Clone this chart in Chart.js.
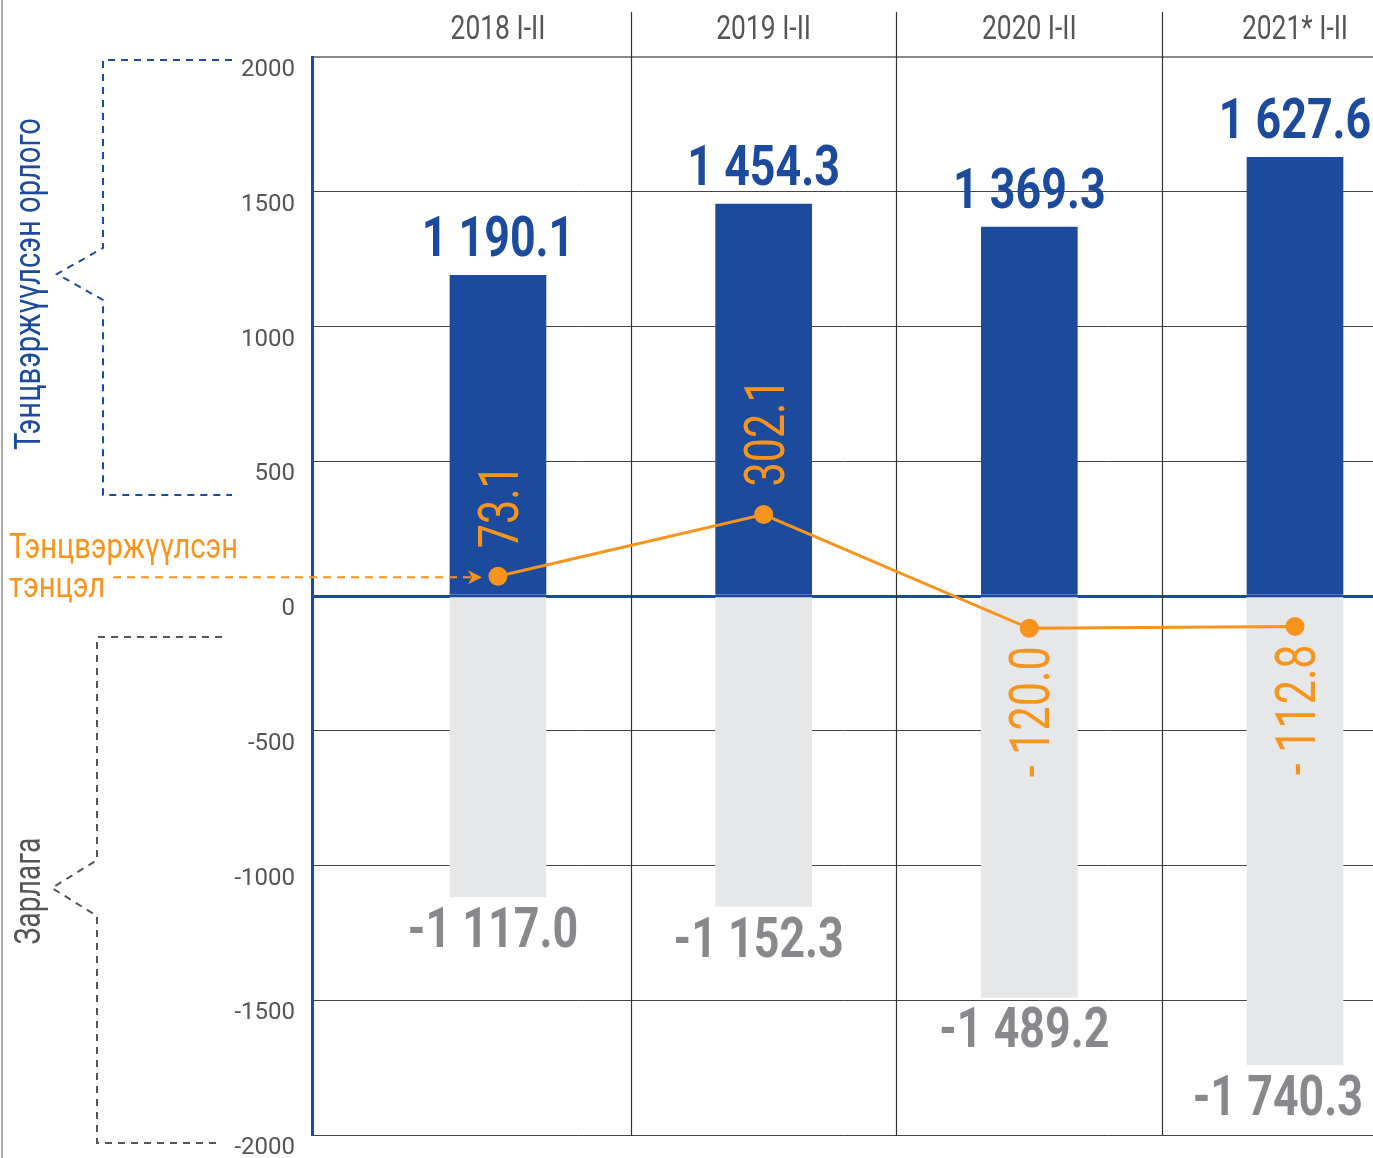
<!DOCTYPE html>
<html>
<head>
<meta charset="utf-8">
<script src="https://cdn.jsdelivr.net/npm/chart.js@4.4.1/dist/chart.umd.min.js"></script>
<style>
  html, body { margin: 0; padding: 0; background: #fff; overflow: hidden; }
  #wrap { width: 1373px; height: 1158px; position: relative; }
</style>
</head>
<body>
<div id="wrap"><canvas id="budgetChart"></canvas></div>
<script>
// Data
const periods = ['2018 I-II', '2019 I-II', '2020 I-II', '2021* I-II'];
const revenue = [1190.1, 1454.3, 1369.3, 1627.6];
const expenditure = [-1117.0, -1152.3, -1489.2, -1740.3];
const balance = [73.1, 302.1, -120.0, -112.8];
const yMin = -2000, yMax = 2000, yStep = 500;

// Colours
const BLUE = '#1c4a9c';
const GRAY_BAR = '#e6e7e8';
const GRAY_TEXT = '#88898d';
const ORANGE = '#f7941d';
const DARK = '#555555';

// 1 190.1 style
function fmt(v) {
    const sign = v < 0 ? '-' : '';
    const parts = Math.abs(v).toFixed(1).split('.');
    const intPart = parts[0].replace(/\B(?=(\d{3})+(?!\d))/g, ' ');
    return sign + intPart + '.' + parts[1];
}

// draw text squeezed horizontally (looks like a condensed face)
function squeezeText(ctx, text, x, y, o) {
    ctx.save();
    ctx.translate(x, y);
    if (o.rot) ctx.rotate(o.rot);
    ctx.font = o.font;
    ctx.fillStyle = o.color;
    ctx.textAlign = o.align || 'center';
    ctx.textBaseline = o.baseline || 'alphabetic';
    let sx = o.sx || 1;
    if (o.fitWidth) sx = o.fitWidth / ctx.measureText(text).width;
    ctx.scale(sx, 1);
    ctx.fillText(text, 0, o.dy || 0);
    ctx.restore();
}

function dashed(ctx, pts, color) {
    ctx.save();
    ctx.strokeStyle = color;
    ctx.lineWidth = 2;
    ctx.setLineDash([7, 6]);
    ctx.beginPath();
    pts.forEach((p, i) => i ? ctx.lineTo(p[0], p[1]) : ctx.moveTo(p[0], p[1]));
    ctx.stroke();
    ctx.restore();
}

const decorPlugin = {
    id: 'decor',
    beforeDatasetsDraw(chart) {
        const ctx = chart.ctx;
        const xs = chart.scales.x;
        const area = chart.chartArea;
        // column separators between periods
        ctx.save();
        ctx.strokeStyle = '#333';
        ctx.lineWidth = 1.2;
        for (let i = 0; i < periods.length - 1; i++) {
            const x = Math.round(xs.getPixelForValue(i + 0.5)) + 0.5;
            ctx.beginPath();
            ctx.moveTo(x, 12);
            ctx.lineTo(x, area.bottom);
            ctx.stroke();
        }
        ctx.restore();
        // period labels on top
        periods.forEach((p, i) => {
            squeezeText(ctx, p, xs.getPixelForValue(i), 39, {
                font: '33px Roboto', color: DARK, sx: 0.8
            });
        });
        // left page border
        ctx.save();
        ctx.strokeStyle = '#aaaaaa';
        ctx.lineWidth = 2;
        ctx.beginPath();
        ctx.moveTo(2, 0);
        ctx.lineTo(2, chart.height);
        ctx.stroke();
        ctx.restore();
    },
    afterDatasetsDraw(chart) {
        const ctx = chart.ctx;
        const area = chart.chartArea;
        const revMeta = chart.getDatasetMeta(1).data;
        const expMeta = chart.getDatasetMeta(2).data;
        const balMeta = chart.getDatasetMeta(0).data;

        revenue.forEach((v, i) => {
            const bar = revMeta[i];
            squeezeText(ctx, fmt(v), bar.x, bar.y - 19, {
                font: 'bold 56px Roboto', color: BLUE, sx: 0.8
            });
        });
        expenditure.forEach((v, i) => {
            const bar = expMeta[i];
            ctx.font = 'bold 56px Roboto';
            const half = ctx.measureText(fmt(v)).width * 0.8 / 2;
            const x = Math.min(bar.x - 5, area.right - 10 - half);
            squeezeText(ctx, fmt(v), x, bar.y + 50, {
                font: 'bold 56px Roboto', color: GRAY_TEXT, sx: 0.8
            });
        });
        balance.forEach((v, i) => {
            const pt = balMeta[i];
            const txt = v < 0 ? '- ' + fmt(-v) : fmt(v);
            if (v >= 0) {
                squeezeText(ctx, txt, pt.x, pt.y - 28, {
                    font: '56px Roboto', color: ORANGE, sx: 0.77,
                    rot: -Math.PI / 2, align: 'left', dy: 20
                });
            } else {
                squeezeText(ctx, txt, pt.x, pt.y + 18, {
                    font: '56px Roboto', color: ORANGE, sx: 0.77,
                    rot: -Math.PI / 2, align: 'right', dy: 20
                });
            }
        });

        // left side captions and braces
        squeezeText(ctx, 'Тэнцвэржүүлсэн орлого', 40, 284, {
            font: '36px Roboto', color: BLUE, rot: -Math.PI / 2, fitWidth: 332
        });
        dashed(ctx, [[232, 60], [103, 60], [103, 248], [57, 274], [103, 300], [103, 495], [232, 495]], BLUE);

        squeezeText(ctx, 'Зарлага', 40, 891, {
            font: '36px Roboto', color: DARK, rot: -Math.PI / 2, fitWidth: 107
        });
        dashed(ctx, [[222, 637], [97, 637], [97, 860], [52, 888], [97, 916], [97, 1143], [222, 1143]], DARK);

        squeezeText(ctx, 'Тэнцвэржүүлсэн', 9, 558, {
            font: '35px Roboto', color: ORANGE, align: 'left', fitWidth: 229
        });
        squeezeText(ctx, 'тэнцэл', 9, 597, {
            font: '35px Roboto', color: ORANGE, align: 'left', fitWidth: 96
        });
        // arrow towards the first balance point
        const first = balMeta[0];
        const ay = first.y + 1;
        const tip = first.x - 16;
        ctx.save();
        ctx.strokeStyle = ORANGE;
        ctx.lineWidth = 2;
        ctx.setLineDash([8, 6]);
        ctx.beginPath();
        ctx.moveTo(113, ay);
        ctx.lineTo(tip - 10, ay);
        ctx.stroke();
        ctx.setLineDash([]);
        ctx.fillStyle = ORANGE;
        ctx.beginPath();
        ctx.moveTo(tip, ay);
        ctx.lineTo(tip - 14, ay - 7);
        ctx.lineTo(tip - 10, ay);
        ctx.lineTo(tip - 14, ay + 7);
        ctx.closePath();
        ctx.fill();
        ctx.restore();
    }
};

const ctx = document.getElementById('budgetChart').getContext('2d');
new Chart(ctx, {
    type: 'bar',
    data: {
        datasets: [
            {
                type: 'line',
                label: 'Тэнцвэржүүлсэн тэнцэл',
                data: balance.map((v, i) => ({ x: i, y: v })),
                borderColor: ORANGE,
                backgroundColor: ORANGE,
                borderWidth: 3,
                pointRadius: 8,
                pointHoverRadius: 8,
                tension: 0,
                order: 0
            },
            {
                label: 'Тэнцвэржүүлсэн орлого',
                data: revenue.map((v, i) => ({ x: i, y: v })),
                backgroundColor: BLUE,
                barThickness: 96,
                grouped: false,
                order: 1
            },
            {
                label: 'Зарлага',
                data: expenditure.map((v, i) => ({ x: i, y: v })),
                backgroundColor: GRAY_BAR,
                barThickness: 96,
                grouped: false,
                order: 2
            }
        ]
    },
    options: {
        responsive: true,
        maintainAspectRatio: false,
        animation: false,
        layout: { autoPadding: false, padding: { left: 0, right: 0, top: 57, bottom: 23 } },
        plugins: {
            legend: { display: false },
            tooltip: { enabled: false }
        },
        scales: {
            x: {
                type: 'linear',
                display: false,
                offset: false,
                min: -0.7,
                max: 3.2936
            },
            y: {
                min: yMin,
                max: yMax,
                afterFit: (scale) => {
                    scale.width = 312;
                    scale.paddingTop = 0;
                    scale.paddingBottom = 0;
                    scale.paddingLeft = 0;
                    scale.paddingRight = 0;
                },
                ticks: {
                    stepSize: yStep,
                    padding: 17,
                    labelOffset: 13,
                    color: DARK,
                    font: { family: 'Roboto', size: 24 },
                    callback: (v) => String(v)
                },
                grid: {
                    drawTicks: false,
                    color: (c) => c.tick.value === 0 ? BLUE : (c.tick.value === yMax ? '#8a8a8a' : '#444'),
                    lineWidth: (c) => c.tick.value === 0 ? 3 : (c.tick.value === yMax ? 2 : 1)
                },
                border: { color: BLUE, width: 3 }
            }
        }
    },
    plugins: [decorPlugin]
});
</script>
</body>
</html>
